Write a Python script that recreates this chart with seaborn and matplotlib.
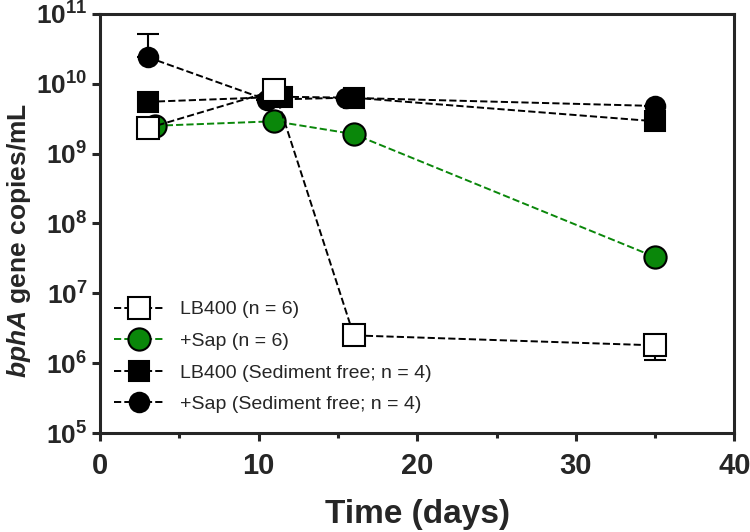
import matplotlib
matplotlib.use('Agg')
import matplotlib.pyplot as plt
import matplotlib.ticker as mticker
import seaborn as sns
import numpy as np

# Datos
dias_lb400 = [3, 11, 16, 35]
copias_lb400 = [2.3e9, 8.0e9, 2.5e6, 1.8e6]
err_lb400_bajo = [0, 0, 0, 0.7e6]

dias_sap = [3.5, 11, 16, 35]
copias_sap = [2.5e9, 2.9e9, 1.9e9, 3.3e7]

dias_lb400_sf = [3, 11.5, 16, 35]
copias_lb400_sf = [5.5e9, 6.5e9, 6.3e9, 2.9e9]

dias_sap_sf = [3, 10.5, 15.5, 35]
copias_sap_sf = [2.4e10, 5.9e9, 6.3e9, 4.8e9]
err_sap_sf_alto = [2.8e10, 0, 0, 0]

etiquetas = ['LB400 (n = 6)', '+Sap (n = 6)',
             'LB400 (Sediment free; n = 4)', '+Sap (Sediment free; n = 4)']

sns.set_style('ticks')
plt.rcParams['font.family'] = ['Liberation Sans', 'DejaVu Sans']
plt.rcParams['mathtext.fontset'] = 'custom'
plt.rcParams['mathtext.bf'] = 'Liberation Sans:bold'
plt.rcParams['mathtext.rm'] = 'Liberation Sans:bold'
plt.rcParams['mathtext.it'] = 'Liberation Sans:bold:italic'

fig = plt.figure(figsize=(7.5, 5.32), dpi=100)
ax = fig.add_axes([0.1333, 0.186, 0.846, 0.788])

verde = '#0a870a'

# Series (orden de dibujo: la ultima queda encima)
series = [
    (dias_sap_sf, copias_sap_sf, 'o', 'black', 'black', 'black', 14, etiquetas[3], 2),
    (dias_lb400_sf, copias_lb400_sf, 's', 'black', 'black', 'black', 14, etiquetas[2], 3),
    (dias_sap, copias_sap, 'o', verde, 'black', verde, 16, etiquetas[1], 4),
    (dias_lb400, copias_lb400, 's', 'white', 'black', 'black', 16, etiquetas[0], 5),
]
for x, y, m, fc, ec, lc, ms, lab, z in series:
    sns.lineplot(x=x, y=y, ax=ax, color=lc, marker=m, markersize=ms,
                 markerfacecolor=fc, markeredgecolor=ec, markeredgewidth=1.5,
                 linestyle='--', dashes=(3.5, 2.5), linewidth=1.4, label=lab,
                 zorder=z, sort=False)

# Barras de error (solo un lado visible)
ax.errorbar(dias_lb400, copias_lb400,
            yerr=[err_lb400_bajo, [0] * 4], fmt='none', ecolor='black',
            elinewidth=1.5, capsize=8, capthick=1.5, zorder=1)
ax.errorbar(dias_sap_sf, copias_sap_sf,
            yerr=[[0] * 4, err_sap_sf_alto], fmt='none', ecolor='black',
            elinewidth=1.5, capsize=8, capthick=1.5, zorder=1)

ax.set_yscale('log')
ax.set_ylim(1e5, 1e11)
ax.set_xlim(0, 40)
ax.set_yticks([10.0 ** k for k in range(5, 12)])
ax.yaxis.set_major_formatter(mticker.FuncFormatter(
    lambda v, p: r'$\mathbf{10^{%d}}$' % round(np.log10(v))))
ax.yaxis.set_minor_locator(mticker.NullLocator())
ax.set_xticks([0, 10, 20, 30, 40])
ax.xaxis.set_minor_locator(mticker.MultipleLocator(5))

for s in ax.spines.values():
    s.set_linewidth(2.2)
ax.tick_params(axis='y', which='major', direction='out', length=6, width=2.2,
               labelsize=19, pad=3)
ax.tick_params(axis='x', which='major', direction='out', length=6, width=2.2,
               labelsize=21, pad=8)
ax.tick_params(axis='x', which='minor', direction='out', length=3.5, width=2.2)
for t in ax.get_xticklabels():
    t.set_fontweight('bold')

ax.set_xlabel('Time (days)', fontsize=24, fontweight='bold', labelpad=13)
ax.set_ylabel(r'$\it{bphA}$ gene copies/mL', fontsize=19, fontweight='bold')
ax.yaxis.set_label_coords(-0.106, 0.46)

handles, labels = ax.get_legend_handles_labels()
orden = [labels.index(e) for e in etiquetas]
ax.legend([handles[i] for i in orden], [labels[i] for i in orden],
          loc='lower left', bbox_to_anchor=(0.0, 0.015), frameon=False,
          fontsize=14, handlelength=2.6, handletextpad=0.8, labelspacing=0.72,
          borderaxespad=0.3)

fig.savefig('out.png', dpi=100)
